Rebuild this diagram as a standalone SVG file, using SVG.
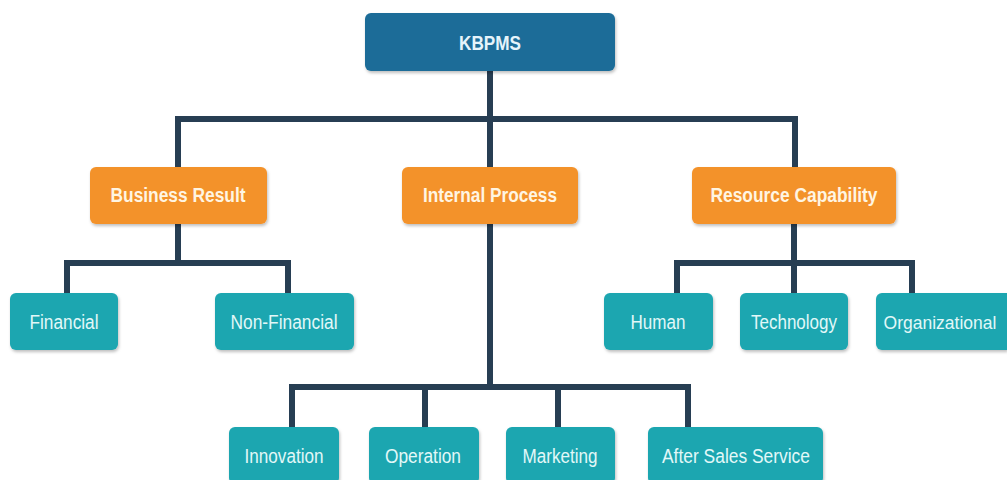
<svg xmlns="http://www.w3.org/2000/svg" width="1007" height="480" viewBox="0 0 1007 480">
  <defs>
    <filter id="shadow" x="-10%" y="-20%" width="120%" height="150%">
      <feDropShadow dx="1" dy="2" stdDeviation="1.5" flood-color="#000" flood-opacity="0.25"/>
    </filter>
    <style>
      .box { filter: url(#shadow); }
      .root { fill: #1b6c98; }
      .cat { fill: #f3922a; }
      .leaf { fill: #1ba6b0; }
      .lbl { font-family: "Liberation Sans", Arial, sans-serif; text-anchor: middle; }
      .root-t { fill: #e6f4fb; font-size: 20px; font-weight: bold; }
      .cat-t { fill: #fff5e2; font-size: 20px; font-weight: bold; }
      .leaf-t { fill: #e2f8f8; font-size: 20px; }
      .wire { fill: none; stroke: #273e53; stroke-width: 6; stroke-linejoin: miter; stroke-linecap: butt; }
    </style>
  </defs>

  <rect width="1007" height="480" fill="#ffffff"/>

  <!-- tree connectors -->
  <g id="connectors">
    <path class="wire" d="M490 71 V119"/>
    <path class="wire" d="M178 167 V119 H795 V167"/>
    <path class="wire" d="M490 119 V167"/>
    <path class="wire" d="M178 224 V263"/>
    <path class="wire" d="M67 293 V263 H288 V293"/>
    <path class="wire" d="M794 224 V293"/>
    <path class="wire" d="M677 293 V263 H912 V293"/>
    <path class="wire" d="M490 224 V387"/>
    <path class="wire" d="M292 427 V387 H688 V427"/>
    <path class="wire" d="M425 387 V427"/>
    <path class="wire" d="M558 387 V427"/>
  </g>

  <!-- root -->
  <g id="kbpms">
    <rect class="box root" x="365" y="13" width="250" height="58" rx="6"/>
    <text class="lbl root-t" x="490" y="50" textLength="62" lengthAdjust="spacingAndGlyphs">KBPMS</text>
  </g>

  <!-- perspectives -->
  <g id="business-result">
    <rect class="box cat" x="90" y="167" width="177" height="57" rx="6"/>
    <text class="lbl cat-t" x="178" y="202" textLength="135" lengthAdjust="spacingAndGlyphs">Business Result</text>
  </g>
  <g id="internal-process">
    <rect class="box cat" x="402" y="167" width="176" height="57" rx="6"/>
    <text class="lbl cat-t" x="490" y="202" textLength="134" lengthAdjust="spacingAndGlyphs">Internal Process</text>
  </g>
  <g id="resource-capability">
    <rect class="box cat" x="692" y="167" width="204" height="57" rx="6"/>
    <text class="lbl cat-t" x="794" y="202" textLength="167" lengthAdjust="spacingAndGlyphs">Resource Capability</text>
  </g>

  <!-- business result measures -->
  <g id="financial">
    <rect class="box leaf" x="10" y="293" width="108" height="57" rx="6"/>
    <text class="lbl leaf-t" x="64" y="329" textLength="69" lengthAdjust="spacingAndGlyphs">Financial</text>
  </g>
  <g id="non-financial">
    <rect class="box leaf" x="215" y="293" width="139" height="57" rx="6"/>
    <text class="lbl leaf-t" x="284" y="329" textLength="107" lengthAdjust="spacingAndGlyphs">Non-Financial</text>
  </g>

  <!-- resource capability measures -->
  <g id="human">
    <rect class="box leaf" x="604" y="293" width="109" height="57" rx="6"/>
    <text class="lbl leaf-t" x="658" y="329" textLength="55" lengthAdjust="spacingAndGlyphs">Human</text>
  </g>
  <g id="technology">
    <rect class="box leaf" x="740" y="293" width="108" height="57" rx="6"/>
    <text class="lbl leaf-t" x="794" y="329" textLength="86" lengthAdjust="spacingAndGlyphs">Technology</text>
  </g>
  <g id="organizational">
    <!-- runs to the right edge of the canvas -->
    <path class="box leaf" d="M882 293 H1007 V350 H882 A6 6 0 0 1 876 344 V299 A6 6 0 0 1 882 293 Z"/>
    <text class="lbl leaf-t" x="940" y="329" style="font-size:17.5px">Organizational</text>
  </g>

  <!-- internal process measures -->
  <g id="innovation">
    <rect class="box leaf" x="229" y="427" width="110" height="57" rx="6"/>
    <text class="lbl leaf-t" x="284" y="463" textLength="79" lengthAdjust="spacingAndGlyphs">Innovation</text>
  </g>
  <g id="operation">
    <rect class="box leaf" x="369" y="427" width="110" height="57" rx="6"/>
    <text class="lbl leaf-t" x="423" y="463" textLength="76" lengthAdjust="spacingAndGlyphs">Operation</text>
  </g>
  <g id="marketing">
    <rect class="box leaf" x="506" y="427" width="109" height="57" rx="6"/>
    <text class="lbl leaf-t" x="560" y="463" textLength="75" lengthAdjust="spacingAndGlyphs">Marketing</text>
  </g>
  <g id="after-sales-service">
    <rect class="box leaf" x="648" y="427" width="175" height="57" rx="6"/>
    <text class="lbl leaf-t" x="736" y="463" textLength="148" lengthAdjust="spacingAndGlyphs">After Sales Service</text>
  </g>
</svg>
